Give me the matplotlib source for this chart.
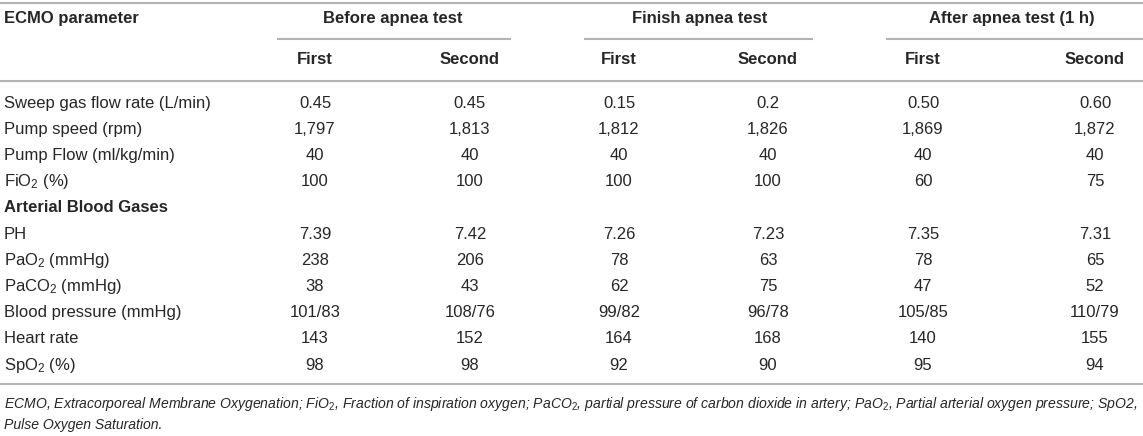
import matplotlib.pyplot as plt

plt.rcParams['font.family'] = ['Liberation Sans', 'DejaVu Sans']
plt.rcParams['mathtext.fontset'] = 'custom'
plt.rcParams['mathtext.rm'] = 'Liberation Sans'
plt.rcParams['mathtext.it'] = 'Liberation Sans:italic'
plt.rcParams['mathtext.bf'] = 'Liberation Sans:bold'

groups = ['Before apnea test', 'Finish apnea test', 'After apnea test (1 h)']
sub_headers = ['First', 'Second', 'First', 'Second', 'First', 'Second']

row_labels = ['Sweep gas flow rate (L/min)', 'Pump speed (rpm)', 'Pump Flow (ml/kg/min)',
              'FiO$_\\mathrm{2}$ (%)', 'Arterial Blood Gases', 'PH', 'PaO$_\\mathrm{2}$ (mmHg)',
              'PaCO$_\\mathrm{2}$ (mmHg)', 'Blood pressure (mmHg)', 'Heart rate',
              'SpO$_\\mathrm{2}$ (%)']
section_rows = ['Arterial Blood Gases']

sweep_gas = ['0.45', '0.45', '0.15', '0.2', '0.50', '0.60']
pump_speed = ['1,797', '1,813', '1,812', '1,826', '1,869', '1,872']
pump_flow = ['40', '40', '40', '40', '40', '40']
fio2 = ['100', '100', '100', '100', '60', '75']
ph = ['7.39', '7.42', '7.26', '7.23', '7.35', '7.31']
pao2 = ['238', '206', '78', '63', '78', '65']
paco2 = ['38', '43', '62', '75', '47', '52']
blood_pressure = ['101/83', '108/76', '99/82', '96/78', '105/85', '110/79']
heart_rate = ['143', '152', '164', '168', '140', '155']
spo2 = ['98', '98', '92', '90', '95', '94']

values = [sweep_gas, pump_speed, pump_flow, fio2, None, ph, pao2, paco2,
          blood_pressure, heart_rate, spo2]

footnote = ['ECMO, Extracorporeal Membrane Oxygenation; FiO$_\\mathit{2}$, Fraction of inspiration oxygen; '
            'PaCO$_\\mathit{2}$, partial pressure of carbon dioxide in artery; PaO$_\\mathit{2}$, '
            'Partial arterial oxygen pressure; SpO2,',
            'Pulse Oxygen Saturation.']

# layout (pixels)
W, H = 1143, 436
col_x = [315, 470, 619, 768, 923, 1095]
group_x = [393, 700, 1012]
group_lines = [(277, 511), (584, 813), (886, 1143)]
label_x = 4
row_y0, row_dy = 103, 26.2
txt = '#262626'
rule = '#b3b3b3'
fs = 12

fig = plt.figure(figsize=(W / 100, H / 100), dpi=100)
ax = fig.add_axes([0, 0, 1, 1])
ax.set_xlim(0, W)
ax.set_ylim(H, 0)
ax.axis('off')

ax.hlines([3, 81, 384], 0, W, color=rule, lw=1.5)
for x0, x1 in group_lines:
    ax.hlines(39, x0, x1, color=rule, lw=1.5)

ax.text(label_x, 19, 'ECMO parameter', fontsize=fs, fontweight='bold', color=txt, va='center')
for gx, g in zip(group_x, groups):
    ax.text(gx, 19, g, fontsize=fs, fontweight='bold', color=txt, va='center', ha='center')
for cx, s in zip(col_x, sub_headers):
    ax.text(cx, 59, s, fontsize=fs, fontweight='bold', color=txt, va='center', ha='center')

for i, (lab, vals) in enumerate(zip(row_labels, values)):
    y = row_y0 + i * row_dy
    bold = lab in section_rows
    ax.text(label_x, y, lab, fontsize=fs, color=txt, va='center',
            fontweight='bold' if bold else 'normal')
    if vals is None:
        continue
    for cx, v in zip(col_x, vals):
        ax.text(cx, y, v, fontsize=fs, color=txt, va='center', ha='center')

for j, line in enumerate(footnote):
    ax.text(label_x, 404 + j * 21, line, fontsize=10.1, color=txt, va='center', style='italic')

fig.savefig('out.png', dpi=100)
plt.close()
